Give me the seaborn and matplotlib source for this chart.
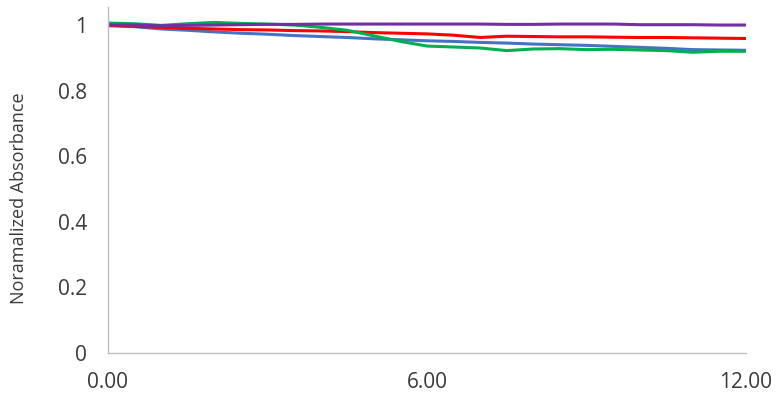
import numpy as np
import pandas as pd
import seaborn as sns
import matplotlib.pyplot as plt

# Time (h) and normalized absorbance for each sample
time_h = [0.0, 0.5, 1.0, 1.5, 2.0, 2.5, 3.0, 3.5, 4.0, 4.5, 5.0, 5.5, 6.0,
          6.5, 7.0, 7.5, 8.0, 8.5, 9.0, 9.5, 10.0, 10.5, 11.0, 11.5, 12.0]

blue = [1.000, 0.995, 0.988, 0.984, 0.979, 0.975, 0.972, 0.968, 0.965, 0.962, 0.958, 0.955, 0.952,
        0.950, 0.947, 0.945, 0.942, 0.940, 0.938, 0.935, 0.932, 0.929, 0.925, 0.924, 0.923]
red = [0.998, 0.996, 0.993, 0.990, 0.988, 0.986, 0.985, 0.983, 0.982, 0.980, 0.977, 0.975, 0.973,
       0.969, 0.962, 0.966, 0.965, 0.964, 0.964, 0.963, 0.962, 0.962, 0.961, 0.960, 0.959]
green = [1.006, 1.004, 0.999, 1.004, 1.008, 1.005, 1.003, 1.000, 0.993, 0.984, 0.967, 0.950, 0.936,
         0.933, 0.930, 0.922, 0.927, 0.928, 0.925, 0.926, 0.924, 0.922, 0.917, 0.920, 0.920]
purple = [1.000, 1.000, 0.998, 0.999, 1.000, 1.001, 1.002, 1.002, 1.003, 1.003, 1.003, 1.003, 1.003,
          1.003, 1.003, 1.002, 1.002, 1.003, 1.003, 1.003, 1.001, 1.001, 1.001, 1.000, 1.000]

series_names = ["Blue", "Red", "Green", "Purple"]
series_values = [blue, red, green, purple]
colors = {"Blue": "#4472C4", "Red": "#FF0000", "Green": "#00B050", "Purple": "#7030A0"}

df = pd.concat(
    [pd.DataFrame({"time": time_h, "absorbance": v, "sample": n})
     for n, v in zip(series_names, series_values)],
    ignore_index=True,
)

sns.set_style("white")
plt.rcParams["font.family"] = ["Open Sans", "DejaVu Sans"]

fig = plt.figure(figsize=(7.8, 3.97), dpi=100)
ax = fig.add_axes([108 / 780, 1 - 353 / 397, (746 - 108) / 780, (353 - 7) / 397])

sns.lineplot(data=df, x="time", y="absorbance", hue="sample", palette=colors,
             hue_order=series_names, linewidth=2.2, legend=False, ax=ax)

ax.set_xlim(0, 12)
ax.set_ylim(0, 1.055)
ax.set_xticks([0, 6, 12])
ax.set_xticklabels(["0.00", "6.00", "12.00"])
ax.set_yticks([0, 0.2, 0.4, 0.6, 0.8, 1.0])
ax.set_yticklabels(["0", "0.2", "0.4", "0.6", "0.8", "1"])
ax.tick_params(axis="both", length=0, labelsize=15, colors="#3a3a3a")
ax.tick_params(axis="y", pad=15)
ax.tick_params(axis="x", pad=14)

ax.set_xlabel("")
ax.set_ylabel("Noramalized Absorbance", fontsize=13, color="#3a3a3a")
ax.yaxis.set_label_coords(-0.125, 0.448)

for side in ["top", "right"]:
    ax.spines[side].set_visible(False)
for side in ["left", "bottom"]:
    ax.spines[side].set_color("#BFBFBF")
    ax.spines[side].set_linewidth(1.0)

fig.savefig("out.png", dpi=100)
